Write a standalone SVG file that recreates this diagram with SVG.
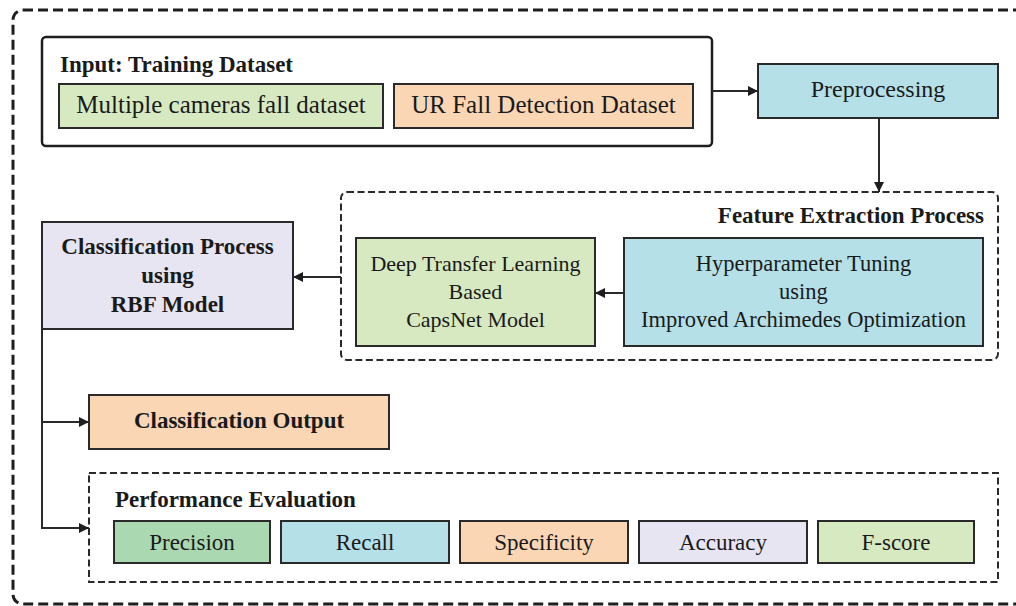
<svg xmlns="http://www.w3.org/2000/svg" width="1016" height="606" viewBox="0 0 1016 606">
  <defs>
    <style>
      .box { stroke: #2a2a2a; stroke-width: 2; }
      .dash { fill: none; stroke: #2a2a2a; stroke-width: 2; stroke-dasharray: 7 3.5; }
      .outer { fill: none; stroke: #1e1e1e; stroke-width: 3; stroke-dasharray: 10 5; }
      .t { font-family: "Liberation Serif", "Times New Roman", serif; fill: #1a1a1a; }
      .b { font-weight: bold; }
      .c { text-anchor: middle; }
      .link { fill: none; stroke: #2a2a2a; stroke-width: 2; }
      .green { fill: #d6e9c1; }
      .orange { fill: #fad6b5; }
      .blue { fill: #b5e0e8; }
      .lav { fill: #e6e5f1; }
      .dgreen { fill: #a9d8b1; }
    </style>
    <marker id="arrow" markerWidth="10" markerHeight="10" refX="10" refY="5" orient="auto" markerUnits="userSpaceOnUse">
      <path d="M0,0 L10,5 L0,10 Z" fill="#1e1e1e"/>
    </marker>
  </defs>

  <rect width="1016" height="606" fill="#ffffff"/>

  <!-- outer frame -->
  <rect class="outer" x="13" y="10" width="1020" height="594" rx="10"/>

  <!-- input datasets -->
  <g id="input">
    <rect x="42" y="37" width="670" height="109" rx="4" fill="#ffffff" stroke="#1e1e1e" stroke-width="2.5"/>
    <text class="t b" x="60" y="72" font-size="23">Input: Training Dataset</text>
    <g id="mcf">
      <rect class="box green" x="59" y="84" width="324" height="44"/>
      <text class="t c" x="221" y="113" font-size="25">Multiple cameras fall dataset</text>
    </g>
    <g id="urfd">
      <rect class="box orange" x="394" y="84" width="299" height="44"/>
      <text class="t c" x="543.5" y="113" font-size="25">UR Fall Detection Dataset</text>
    </g>
  </g>

  <g id="preprocessing">
    <rect class="box blue" x="758" y="64" width="240" height="54"/>
    <text class="t c" x="878" y="97" font-size="24">Preprocessing</text>
  </g>

  <!-- feature extraction stage -->
  <g id="feature-extraction">
    <rect class="dash" x="341" y="192" width="657" height="168" rx="6"/>
    <text class="t b" x="984" y="223" font-size="23" text-anchor="end">Feature Extraction Process</text>
    <g id="capsnet">
      <rect class="box green" x="356" y="238" width="239" height="108"/>
      <text class="t c" x="475.5" y="271" font-size="22">Deep Transfer Learning</text>
      <text class="t c" x="475.5" y="299" font-size="22">Based</text>
      <text class="t c" x="475.5" y="327" font-size="22">CapsNet Model</text>
    </g>
    <g id="hyperparameter">
      <rect class="box blue" x="624" y="238" width="359" height="108"/>
      <text class="t c" x="803.5" y="271" font-size="22.5">Hyperparameter Tuning</text>
      <text class="t c" x="803.5" y="299" font-size="22.5">using</text>
      <text class="t c" x="803.5" y="327" font-size="22.5">Improved Archimedes Optimization</text>
    </g>
  </g>

  <g id="classification">
    <rect class="box lav" x="42" y="222" width="251" height="107"/>
    <text class="t b c" x="167.5" y="254" font-size="23">Classification Process</text>
    <text class="t b c" x="167.5" y="283" font-size="23">using</text>
    <text class="t b c" x="167.5" y="312" font-size="23">RBF Model</text>
  </g>

  <g id="classification-output">
    <rect class="box orange" x="89" y="395" width="300" height="54"/>
    <text class="t b c" x="239" y="428" font-size="23">Classification Output</text>
  </g>

  <!-- evaluation metrics -->
  <g id="performance">
    <rect class="dash" x="89" y="473" width="909" height="109"/>
    <text class="t b" x="115" y="507" font-size="23">Performance Evaluation</text>
    <g id="precision">
      <rect class="box dgreen" x="114" y="521" width="156" height="42"/>
      <text class="t c" x="192" y="550" font-size="23">Precision</text>
    </g>
    <g id="recall">
      <rect class="box blue" x="281" y="521" width="168" height="42"/>
      <text class="t c" x="365" y="550" font-size="23">Recall</text>
    </g>
    <g id="specificity">
      <rect class="box orange" x="460" y="521" width="168" height="42"/>
      <text class="t c" x="544" y="550" font-size="23">Specificity</text>
    </g>
    <g id="accuracy">
      <rect class="box lav" x="639" y="521" width="168" height="42"/>
      <text class="t c" x="723" y="550" font-size="23">Accuracy</text>
    </g>
    <g id="fscore">
      <rect class="box green" x="818" y="521" width="156" height="42"/>
      <text class="t c" x="896" y="550" font-size="23">F-score</text>
    </g>
  </g>

  <!-- connectors -->
  <g id="connectors">
    <path class="link" d="M712,91 H758" marker-end="url(#arrow)"/>
    <path class="link" d="M879,118 V192" marker-end="url(#arrow)"/>
    <path class="link" d="M624,293 H595" marker-end="url(#arrow)"/>
    <path class="link" d="M341,277 H293" marker-end="url(#arrow)"/>
    <path class="link" d="M42,329 V528 H89" marker-end="url(#arrow)"/>
    <path class="link" d="M42,422 H89" marker-end="url(#arrow)"/>
  </g>
</svg>
